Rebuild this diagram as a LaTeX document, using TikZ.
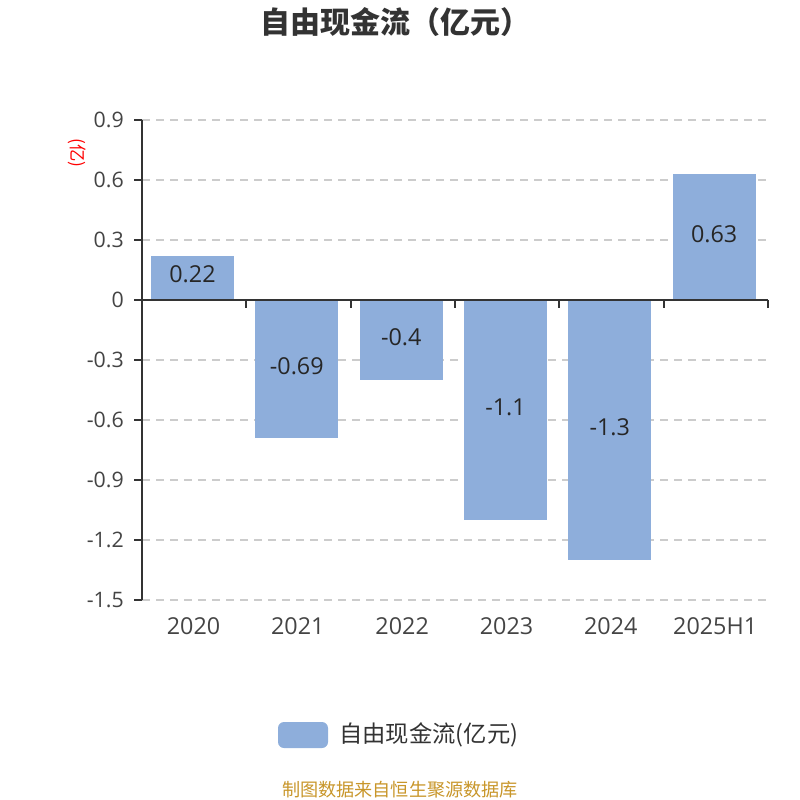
\documentclass[tikz,border=0pt]{standalone}
\usepackage{fontspec}
\setmainfont{Noto Sans CJK SC}
\newfontfamily\numfont{Open Sans}
\definecolor{barc}{HTML}{8EAEDB}
\definecolor{axc}{HTML}{333333}
\definecolor{txtc}{HTML}{444444}
\definecolor{gridc}{HTML}{CCCCCC}
\definecolor{footc}{HTML}{C8962A}
\tikzset{
  bar/.style={fill=barc, draw=none},
  barlabel/.style={font=\numfont\fontsize{17.5}{20}\selectfont, text=black!85, inner sep=0pt},
  ylabel/.style={font=\numfont\fontsize{16}{19}\selectfont, text=txtc, inner sep=0pt},
  xlabel/.style={font=\numfont\fontsize{17.5}{20}\selectfont, text=txtc, inner sep=0pt},
  gridline/.style={gridc, line width=0.9pt, dash pattern=on 6pt off 4.5pt},
  axisline/.style={axc, line width=1.4pt},
}
\begin{document}
\begin{tikzpicture}[x=0.75pt,y=-0.75pt]
\useasboundingbox (0,0) rectangle (800,800);
% title
\node[font=\fontsize{22.5}{26}\selectfont\bfseries, text=axc] (title) at (395,22) {自由现金流（亿元）};
% grid
\foreach \v in {0.9,0.6,0.3,-0.3,-0.6,-0.9,-1.2,-1.5}{
  \draw[gridline] (142,{300-200*\v}) -- (768,{300-200*\v});
}
% bars
\foreach \i/\v in {0/0.22,1/-0.69,2/-0.4,3/-1.1,4/-1.3,5/0.63}{
  \fill[bar] ({151+104.33*\i},300) rectangle ({234+104.33*\i},{300-200*\v});
}
% bar labels
\node[barlabel] (l0) at (192.5,274) {0.22};
\node[barlabel] (l1) at (296.8,366) {-0.69};
\node[barlabel] (l2) at (401.2,337) {-0.4};
\node[barlabel] (l3) at (505.5,407) {-1.1};
\node[barlabel] (l4) at (609.8,427) {-1.3};
\node[barlabel] (l5) at (714.2,234) {0.63};
% y axis
\draw[axisline] (142,120) -- (142,600);
\foreach \v/\l in {0.9/0.9,0.6/0.6,0.3/0.3,0/0,-0.3/-0.3,-0.6/-0.6,-0.9/-0.9,-1.2/-1.2,-1.5/-1.5}{
  \draw[axisline] (134,{300-200*\v}) -- (142,{300-200*\v});
  \node[ylabel, anchor=east] at (124,{300-200*\v}) {\l};
}
% x axis
\draw[axisline] (142,300) -- (768,300);
\foreach \i in {0,...,6}{
  \draw[axisline] ({142+104.33*\i},300) -- ({142+104.33*\i},308);
}
\foreach \i/\t in {0/2020,1/2021,2/2022,3/2023,4/2024,5/2025H1}{
  \node[xlabel] at ({193.5+104.33*\i},626) {\t};
}
% y unit label
\node[font=\fontsize{13}{15}\selectfont, text=red, rotate=-90, inner sep=0pt] (unit) at (77,153) {(亿)};
% legend
\fill[barc, rounded corners=4.5pt] (278,722) rectangle (328,748);
\node[font=\fontsize{17.5}{20}\selectfont, text=axc, inner sep=0pt, anchor=west] (leg) at (339,735) {自由现金流(亿元)};
% footer
\node[font=\fontsize{13.6}{16}\selectfont, text=footc, inner sep=0pt] (foot) at (400,790) {制图数据来自恒生聚源数据库};
\end{tikzpicture}
\end{document}
